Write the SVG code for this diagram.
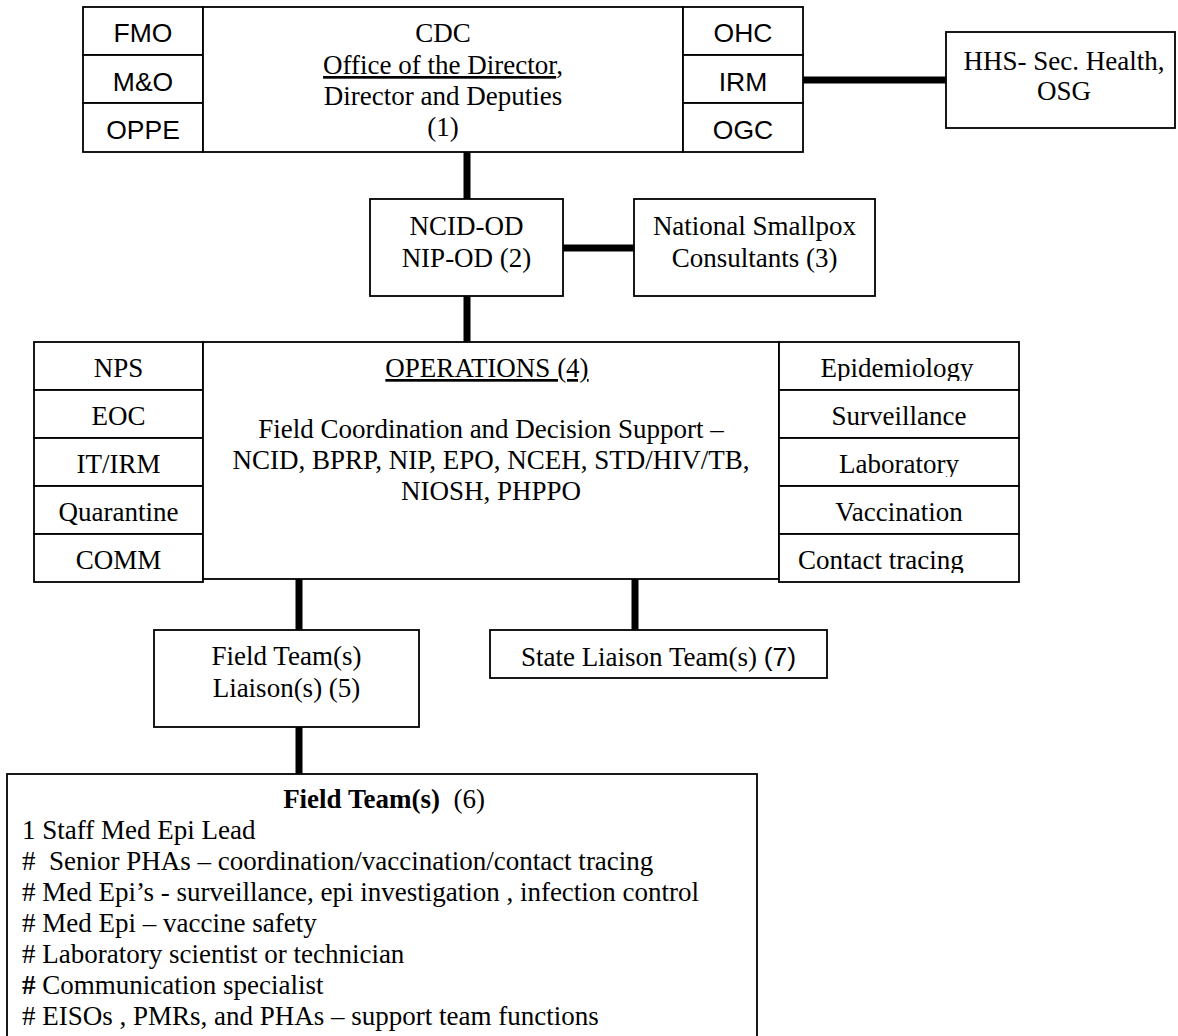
<svg xmlns="http://www.w3.org/2000/svg" width="1178" height="1036" viewBox="0 0 1178 1036">
<style>
.box{fill:#fff;stroke:#000;stroke-width:1.8}
.t{font-family:"Liberation Serif","Times New Roman",serif;font-size:27px;fill:#000}
.s{font-family:"Liberation Sans",Arial,sans-serif;font-size:26.5px;fill:#000}
.c{text-anchor:middle}
.u{text-decoration:underline}
.conn{stroke:#000;stroke-width:7;fill:none}
</style>
<defs>
<clipPath id="cpEpi"><rect x="779" y="342" width="240" height="39"/></clipPath>
<clipPath id="cpLab"><rect x="779" y="438" width="240" height="39"/></clipPath>
<clipPath id="cpCon"><rect x="779" y="534" width="240" height="39"/></clipPath>
</defs>
<rect width="1178" height="1036" fill="#fff"/>

<g id="connectors">
<line class="conn" x1="803" y1="80" x2="946" y2="80"/>
<line class="conn" x1="467" y1="152" x2="467" y2="199"/>
<line class="conn" x1="563" y1="248" x2="634" y2="248"/>
<line class="conn" x1="467" y1="296" x2="467" y2="342"/>
<line class="conn" x1="299" y1="579" x2="299" y2="630"/>
<line class="conn" x1="635" y1="579" x2="635" y2="630"/>
<line class="conn" x1="299" y1="727" x2="299" y2="774"/>
</g>

<g id="fmo"><rect class="box" x="83" y="7" width="120" height="48"/><text class="s c" x="143" y="42">FMO</text></g>
<g id="mo"><rect class="box" x="83" y="55" width="120" height="48"/><text class="s c" x="143" y="91">M&amp;O</text></g>
<g id="oppe"><rect class="box" x="83" y="103" width="120" height="49"/><text class="s c" x="143" y="139">OPPE</text></g>

<g id="cdc">
<rect class="box" x="203" y="7" width="480" height="145"/>
<text class="t c" x="443" y="42">CDC</text>
<text class="t c" x="443" y="74"><tspan class="u">Office of the Director</tspan>,</text>
<text class="t c" x="443" y="105">Director and Deputies</text>
<text class="t c" x="443" y="136">(1)</text>
</g>

<g id="ohc"><rect class="box" x="683" y="7" width="120" height="48"/><text class="s c" x="743" y="42">OHC</text></g>
<g id="irm"><rect class="box" x="683" y="55" width="120" height="48"/><text class="s c" x="743" y="91">IRM</text></g>
<g id="ogc"><rect class="box" x="683" y="103" width="120" height="49"/><text class="s c" x="743" y="139">OGC</text></g>

<g id="hhs">
<rect class="box" x="946" y="32" width="229" height="96"/>
<text class="t c" x="1064" y="70">HHS- Sec. Health,</text>
<text class="t c" x="1064" y="100">OSG</text>
</g>

<g id="ncid">
<rect class="box" x="370" y="199" width="193" height="97"/>
<text class="t c" x="466.5" y="235">NCID-OD</text>
<text class="t c" x="466.5" y="267">NIP-OD (2)</text>
</g>

<g id="smallpox">
<rect class="box" x="634" y="199" width="241" height="97"/>
<text class="t c" x="754.5" y="235">National Smallpox</text>
<text class="t c" x="754.5" y="267">Consultants (3)</text>
</g>

<g id="nps"><rect class="box" x="34" y="342" width="169" height="48"/><text class="t c" x="118.5" y="377">NPS</text></g>
<g id="eoc"><rect class="box" x="34" y="390" width="169" height="48"/><text class="t c" x="118.5" y="425">EOC</text></g>
<g id="itirm"><rect class="box" x="34" y="438" width="169" height="48"/><text class="t c" x="118.5" y="473">IT/IRM</text></g>
<g id="quarantine"><rect class="box" x="34" y="486" width="169" height="48"/><text class="t c" x="118.5" y="521">Quarantine</text></g>
<g id="comm"><rect class="box" x="34" y="534" width="169" height="48"/><text class="t c" x="118.5" y="569">COMM</text></g>

<g id="operations">
<rect class="box" x="203" y="342" width="576" height="237"/>
<text class="t c u" x="487" y="377">OPERATIONS (4)</text>
<text class="t c" x="491" y="438">Field Coordination and Decision Support –</text>
<text class="t c" x="491" y="469">NCID, BPRP, NIP, EPO, NCEH, STD/HIV/TB,</text>
<text class="t c" x="491" y="500">NIOSH, PHPPO</text>
</g>

<g id="epidemiology"><rect class="box" x="779" y="342" width="240" height="48"/><text class="t c" x="897" y="377" clip-path="url(#cpEpi)">Epidemiology</text></g>
<g id="surveillance"><rect class="box" x="779" y="390" width="240" height="48"/><text class="t c" x="899" y="425">Surveillance</text></g>
<g id="laboratory"><rect class="box" x="779" y="438" width="240" height="48"/><text class="t c" x="899" y="473" clip-path="url(#cpLab)">Laboratory</text></g>
<g id="vaccination"><rect class="box" x="779" y="486" width="240" height="48"/><text class="t c" x="899" y="521">Vaccination</text></g>
<g id="contact-tracing"><rect class="box" x="779" y="534" width="240" height="48"/><text class="t" x="798" y="569" clip-path="url(#cpCon)">Contact tracing</text></g>

<g id="field-liaison">
<rect class="box" x="154" y="630" width="265" height="97"/>
<text class="t c" x="286.5" y="665">Field Team(s)</text>
<text class="t c" x="286.5" y="697">Liaison(s) (5)</text>
</g>

<g id="state-liaison">
<rect class="box" x="490" y="630" width="337" height="48"/>
<text class="t c" x="658.5" y="666">State Liaison Team(s) <tspan class="s">(7)</tspan></text>
</g>

<g id="field-teams">
<rect class="box" x="7" y="774" width="750" height="280"/>
<text class="t c" x="384" y="808" xml:space="preserve"><tspan font-weight="bold">Field Team(s)</tspan>  (6)</text>
<text class="t" x="22" y="839">1 Staff Med Epi Lead</text>
<text class="t" x="22" y="870" xml:space="preserve">#  Senior PHAs – coordination/vaccination/contact tracing</text>
<text class="t" x="22" y="901"># Med Epi’s - surveillance, epi investigation , infection control</text>
<text class="t" x="22" y="932"># Med Epi – vaccine safety</text>
<text class="t" x="22" y="963"># Laboratory scientist or technician</text>
<text class="t" x="22" y="994"><tspan font-weight="bold">#</tspan> Communication specialist</text>
<text class="t" x="22" y="1025"># EISOs , PMRs, and PHAs – support team functions</text>
</g>
</svg>
